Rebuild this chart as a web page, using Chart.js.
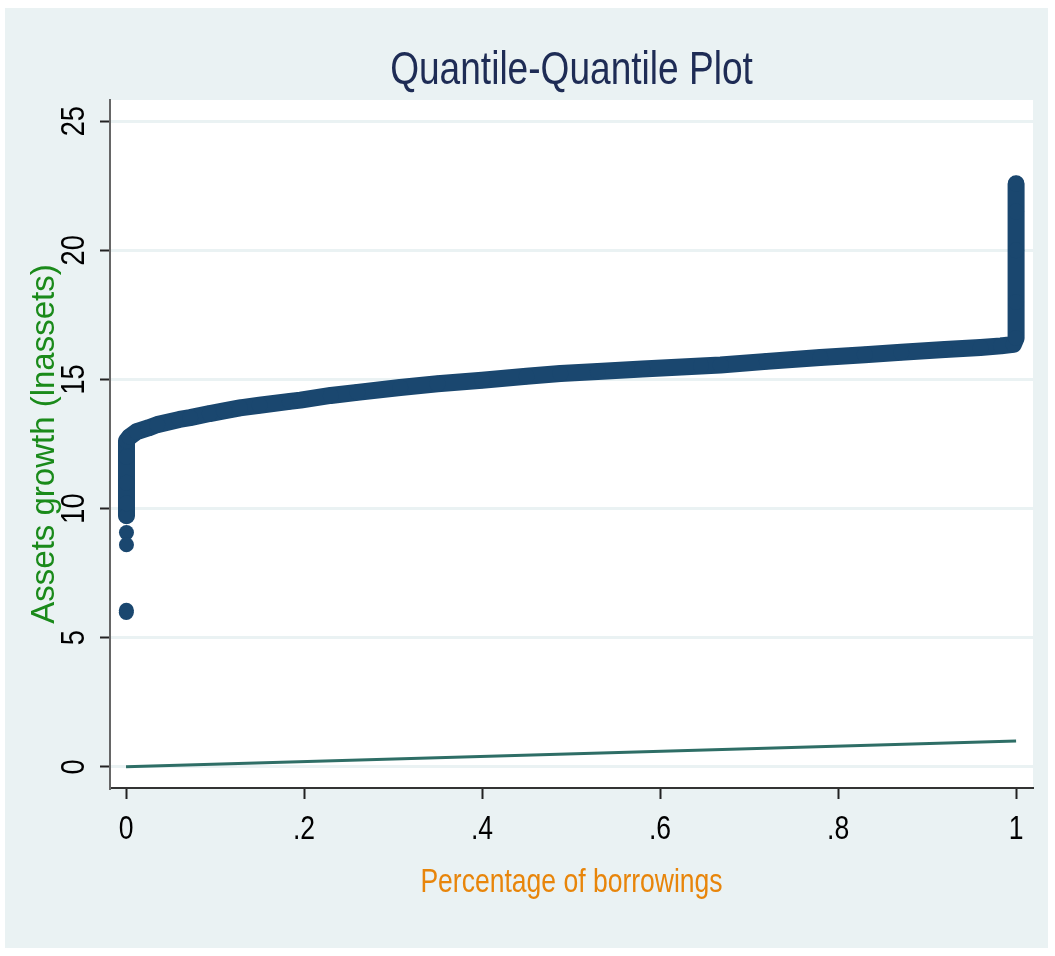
<!DOCTYPE html>
<html>
<head>
<meta charset="utf-8">
<script src="https://cdn.jsdelivr.net/npm/chart.js@4/dist/chart.umd.min.js"></script>
<style>
  html, body { margin: 0; padding: 0; background: #ffffff; }
  #panel { position: absolute; left: 5px; top: 8px; width: 1043px; height: 940px; background: #EAF2F3; }
  #wrap { position: absolute; left: 0; top: 0; width: 1055px; height: 956px; }
</style>
</head>
<body>
<div id="panel"></div>
<div id="wrap"><canvas id="qq" width="1055" height="956"></canvas></div>
<script>
// Sorted lnassets values plotted against their cumulative fraction of borrowings
const bandFraction = [
  0.0005, 0.0005, 0.0005, 0.0005, 0.0006, 0.004, 0.012, 0.025, 0.035, 0.06,
  0.072, 0.094, 0.11, 0.128, 0.15, 0.184, 0.196, 0.23, 0.26, 0.308,
  0.35, 0.4, 0.45, 0.488, 0.53, 0.58, 0.646, 0.668, 0.72, 0.78,
  0.83, 0.871, 0.92, 0.96, 0.983, 0.997, 1.0, 1.0, 1.0, 1.0, 1.0
];
const bandLnAssets = [
  9.72, 10.2, 11.0, 12.0, 12.62, 12.78, 12.98, 13.12, 13.25, 13.45,
  13.52, 13.68, 13.78, 13.9, 14.0, 14.15, 14.2, 14.38, 14.5, 14.69,
  14.83, 14.97, 15.12, 15.23, 15.31, 15.4, 15.52, 15.56, 15.7, 15.85,
  15.96, 16.05, 16.16, 16.24, 16.3, 16.36, 16.6, 18.0, 20.0, 21.5, 22.58
];

// Isolated low observations below the main band
const tailFraction = [0.0005, 0.0005, 0.0004, 0.0003];
const tailLnAssets = [9.07, 8.6, 6.06, 5.98];

// 45-degree reference line
const refFraction = [0, 1];
const refValue = [0, 1];

// Axis ticks
const xTickValues = [0, 0.2, 0.4, 0.6, 0.8, 1];
const xTickLabels = ['0', '.2', '.4', '.6', '.8', '1'];
const yTickValues = [0, 5, 10, 15, 20, 25];
const yTickLabels = ['0', '5', '10', '15', '20', '25'];

const TITLE = 'Quantile-Quantile Plot';
const X_TITLE = 'Percentage of borrowings';
const Y_TITLE = 'Assets growth (lnassets)';

const NAVY = '#1A476F';
const SANS = "'Liberation Sans', Arial, sans-serif";

const toPoints = (xs, ys) => xs.map((x, i) => ({ x: x, y: ys[i] }));

// White plot region inside the tinted panel
const plotBackground = {
  id: 'plotBackground',
  beforeDraw(chart) {
    const { ctx, chartArea: a } = chart;
    ctx.save();
    ctx.fillStyle = '#ffffff';
    ctx.fillRect(a.left, a.top, a.right - a.left, a.bottom - a.top);
    ctx.restore();
  }
};

// Title, tick labels and x-axis title set in a condensed face
// (regular sans squeezed along the text direction)
const condensedText = {
  id: 'condensedText',
  afterDraw(chart) {
    const { ctx, chartArea: a, scales: { x, y } } = chart;
    const put = (text, px, py, size, color, squeeze, baseline, rot) => {
      ctx.save();
      ctx.font = size + 'px ' + SANS;
      ctx.fillStyle = color;
      ctx.textAlign = 'center';
      ctx.textBaseline = baseline;
      ctx.translate(px, py);
      if (rot) ctx.rotate(rot);
      const w = ctx.measureText(text).width;
      ctx.fillText(text, 0, 0, w * squeeze);
      ctx.restore();
    };
    const midX = (a.left + a.right) / 2;
    put(TITLE, midX, a.top - 16, 46, '#1E2C55', 0.806, 'alphabetic');
    x.ticks.forEach((t, i) => {
      put(xTickLabels[i], x.getPixelForValue(t.value), x.top + 51, 34, '#000000', 0.78, 'alphabetic');
    });
    y.ticks.forEach((t, i) => {
      put(yTickLabels[i], y.right - 35, y.getPixelForValue(t.value), 34, '#000000', 0.8, 'middle', -Math.PI / 2);
    });
    put(X_TITLE, midX, x.top + 104, 34, '#E8850A', 0.78, 'alphabetic');
  }
};

new Chart(document.getElementById('qq'), {
  type: 'scatter',
  data: {
    datasets: [
      {
        data: toPoints(refFraction, refValue),
        showLine: true,
        borderColor: '#2E6E66',
        borderWidth: 3,
        pointRadius: 0,
        order: 3
      },
      {
        data: toPoints(bandFraction, bandLnAssets),
        showLine: true,
        borderColor: NAVY,
        borderWidth: 17,
        borderCapStyle: 'round',
        borderJoinStyle: 'round',
        tension: 0,
        pointRadius: 8,
        pointBorderWidth: 0,
        pointBackgroundColor: NAVY,
        order: 2
      },
      {
        data: toPoints(tailFraction, tailLnAssets),
        showLine: false,
        pointRadius: 7.5,
        pointBorderWidth: 0,
        pointBackgroundColor: NAVY,
        order: 1
      }
    ]
  },
  options: {
    responsive: false,
    animation: false,
    events: [],
    layout: { padding: { left: 0, right: 22, top: 100, bottom: 0 } },
    plugins: {
      legend: { display: false },
      tooltip: { enabled: false },
      title: { display: false }
    },
    scales: {
      x: {
        type: 'linear',
        position: 'bottom',
        min: -0.018,
        max: 1.019,
        afterBuildTicks: s => { s.ticks = xTickValues.map(v => ({ value: v })); },
        afterFit: s => { s.height = 168; },
        grid: { drawOnChartArea: false, tickLength: 11, tickColor: '#222222', tickWidth: 2 },
        border: { color: '#333333', width: 2 },
        ticks: { display: false, autoSkip: false },
        title: { display: false }
      },
      y: {
        type: 'linear',
        position: 'left',
        min: -0.82,
        max: 25.82,
        afterBuildTicks: s => { s.ticks = yTickValues.map(v => ({ value: v })); },
        afterFit: s => { s.width = 110; },
        grid: { color: '#EAF2F3', lineWidth: 3, tickLength: 10, tickColor: '#222222', tickWidth: 2 },
        border: { color: '#666666', width: 2 },
        ticks: { display: false, autoSkip: false },
        title: {
          display: true,
          text: Y_TITLE,
          color: '#1A8A1A',
          font: { family: SANS, size: 33 },
          padding: { top: 25, bottom: 0 }
        }
      }
    }
  },
  plugins: [plotBackground, condensedText]
});
</script>
</body>
</html>
